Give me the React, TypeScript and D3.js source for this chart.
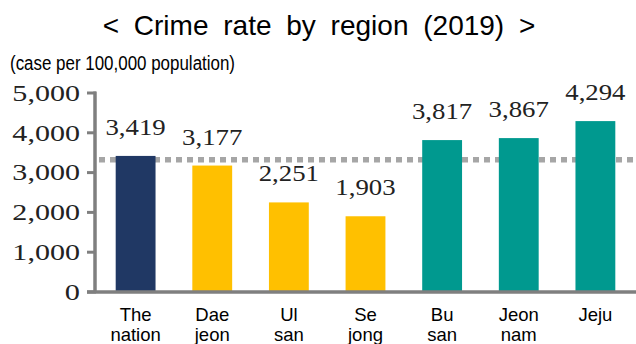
import React from "react";
import * as d3 from "d3";

const categories: string[][] = [
  ["The", "nation"],
  ["Dae", "jeon"],
  ["Ul", "san"],
  ["Se", "jong"],
  ["Bu", "san"],
  ["Jeon", "nam"],
  ["Jeju"],
];
const values: number[] = [3419, 3177, 2251, 1903, 3817, 3867, 4294];
const groups: string[] = ["nation", "low", "low", "low", "high", "high", "high"];
const yTicks: number[] = [0, 1000, 2000, 3000, 4000, 5000];
const referenceLine = 3320;
const title = "< Crime rate by region (2019) >";
const unitLabel = "(case per 100,000 population)";

const W = 636;
const H = 344;

// approximate widened-serif width of a number string
function serifWidth(s: string, size: number, digitEm: number) {
  let w = 0;
  for (const ch of s) w += ch === "," ? 0.3 * size : digitEm * size;
  return w;
}

export default function App() {
  const x = d3
    .scaleBand<number>()
    .domain(values.map((_, i) => i))
    .range([95, 636])
    .paddingInner(0.48)
    .paddingOuter(0.27);
  const y = d3.scaleLinear().domain([0, 5000]).range([292, 93]);
  const color = d3
    .scaleOrdinal<string, string>()
    .domain(["nation", "low", "high"])
    .range(["#203864", "#ffc000", "#00998f"]);
  const fmt = d3.format(",");
  const axisColor = "#7f7f7f";
  const serif = "'Liberation Serif', 'Times New Roman', serif";
  const sans = "'Liberation Sans', Arial, sans-serif";

  return (
    <svg
      width={W}
      height={H}
      style={{ position: "absolute", left: 0, top: 0, background: "#fff" }}
    >
      <text x={319} y={35} textAnchor="middle" fontFamily={sans} fontSize={28} wordSpacing={7} fill="#000">
        {title}
      </text>
      <text
        x={10}
        y={70}
        fontFamily={sans}
        fontSize={20}
        textLength={225}
        lengthAdjust="spacingAndGlyphs"
        fill="#000"
      >
        {unitLabel}
      </text>

      {/* reference dashed line */}
      <line
        x1={99}
        x2={636}
        y1={y(referenceLine)}
        y2={y(referenceLine)}
        stroke="#a6a6a6"
        strokeWidth={5.5}
        strokeDasharray="6 5"
      />

      {/* bars */}
      {values.map((v, i) => (
        <rect
          key={i}
          x={x(i)}
          y={y(v)}
          width={x.bandwidth()}
          height={y(0) - y(v)}
          fill={color(groups[i])}
        />
      ))}

      {/* value labels */}
      {values.map((v, i) => {
        const s = fmt(v);
        return (
          <text
            key={"v" + i}
            x={(x(i) as number) + x.bandwidth() / 2}
            y={y(v) - 21}
            textAnchor="middle"
            fontFamily={serif}
            fontSize={23}
            textLength={serifWidth(s, 23, 0.58)}
            lengthAdjust="spacingAndGlyphs"
            fill="#222"
          >
            {s}
          </text>
        );
      })}

      {/* y axis */}
      <line x1={95} x2={95} y1={y(5000) - 1.5} y2={y(0)} stroke={axisColor} strokeWidth={3.5} />
      {yTicks.map((t) => {
        const s = fmt(t);
        const len = serifWidth(s, 23, 0.66);
        return (
          <g key={t}>
            <line x1={87} x2={96} y1={y(t)} y2={y(t)} stroke={axisColor} strokeWidth={3} />
            <text
              x={80 - len}
              y={y(t)}
              dy="0.34em"
              fontFamily={serif}
              fontSize={23}
              textLength={len}
              lengthAdjust="spacingAndGlyphs"
              fill="#222"
            >
              {s}
            </text>
          </g>
        );
      })}
      {/* x axis */}
      <line x1={87} x2={636} y1={y(0)} y2={y(0)} stroke={axisColor} strokeWidth={3.5} />
      {categories.map((lines, i) =>
        lines.map((l, j) => (
          <text
            key={"c" + i + "-" + j}
            x={(x(i) as number) + x.bandwidth() / 2}
            y={321 + j * 20}
            textAnchor="middle"
            fontFamily={sans}
            fontSize={18.5}
            fill="#000"
          >
            {l}
          </text>
        ))
      )}
    </svg>
  );
}
